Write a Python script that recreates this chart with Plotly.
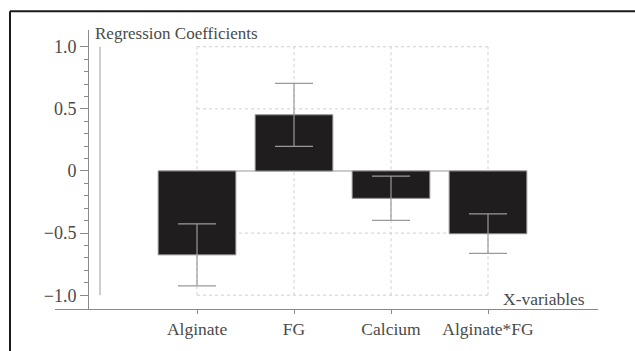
import plotly.graph_objects as go

categories = ["Alginate", "FG", "Calcium", "Alginate*FG"]
coefficients = [-0.675, 0.452, -0.22, -0.505]
errors = [0.25, 0.254, 0.178, 0.159]
ytick_vals = [-1.0, -0.5, 0.0, 0.5, 1.0]
ytick_text = ["\u22121.0", "\u22120.5", "0", "0.5", "1.0"]
minor_vals = [-0.9, -0.8, -0.7, -0.6, -0.4, -0.3, -0.2, -0.1,
              0.1, 0.2, 0.3, 0.4, 0.6, 0.7, 0.8, 0.9]
grid_y = [-1.0, -0.5, 0.5, 1.0]

FONT = "Liberation Serif"
AX = "#8a8a8a"
TXT = "#4a4a4a"

fig = go.Figure()
fig.add_trace(go.Bar(
    x=categories, y=coefficients, width=0.8,
    marker=dict(color="#1f1d1e", line=dict(color="#8c8c8c", width=1)),
    error_y=dict(type="data", array=errors, visible=True, color="#9a9a9a", thickness=1.2, width=19),
    showlegend=False,
))

shapes = []
n = len(categories)
for gy in grid_y:
    shapes.append(dict(type="line", xref="x", yref="y", x0=0, x1=n - 1, y0=gy, y1=gy,
                       line=dict(color="#d0d0d0", width=1, dash="dot"), layer="below"))
for i in range(n):
    shapes.append(dict(type="line", xref="x", yref="y", x0=i, x1=i, y0=-1, y1=1,
                       line=dict(color="#d0d0d0", width=1, dash="dot"), layer="below"))
shapes.append(dict(type="line", xref="x", yref="y", x0=-0.4, x1=n - 1 + 0.4, y0=0, y1=0,
                   line=dict(color="#9a9a9a", width=1), layer="below"))
shapes.append(dict(type="line", xref="paper", yref="y", x0=0.0829, x1=0.0829, y0=-1, y1=1,
                   line=dict(color="#9a9a9a", width=1)))
shapes.append(dict(type="line", xref="paper", yref="paper", x0=-0.0829, x1=1.2, y0=1.0671, y1=1.0671,
                   line=dict(color="#1a1a1a", width=2)))
shapes.append(dict(type="line", xref="paper", yref="paper", x0=-0.0829, x1=-0.0829, y0=1.0671, y1=-0.3,
                   line=dict(color="#1a1a1a", width=2)))

fig.update_layout(
    width=635, height=351,
    margin=dict(l=55, r=37, t=30, b=38),
    paper_bgcolor="white", plot_bgcolor="white",
    font=dict(family=FONT, size=17, color=TXT),
    shapes=shapes,
    xaxis=dict(
        range=[-1.464, 4.134], showgrid=False, zeroline=False,
        showline=True, linecolor=AX, linewidth=1,
        ticks="outside", ticklen=4, tickcolor=AX,
        tickfont=dict(family=FONT, size=17.5, color=TXT),
    ),
    yaxis=dict(
        range=[-1.111, 1.135], anchor="free", position=0.0608,
        showgrid=False, zeroline=False,
        showline=True, linecolor=AX, linewidth=1,
        tickmode="array", tickvals=ytick_vals, ticktext=ytick_text,
        ticks="outside", ticklen=8, tickcolor=AX,
        minor=dict(tickmode="array", tickvals=minor_vals, ticks="outside", ticklen=4,
                   tickcolor=AX, showgrid=False),
        tickfont=dict(family=FONT, size=18, color=TXT),
    ),
    annotations=[
        dict(text="Regression Coefficients", xref="paper", yref="paper", x=0.070, y=0.989,
             xanchor="left", yanchor="middle", showarrow=False,
             font=dict(family=FONT, size=17, color=TXT)),
        dict(text="X-variables", xref="paper", yref="paper", x=0.9797, y=0.0353,
             xanchor="right", yanchor="middle", showarrow=False,
             font=dict(family=FONT, size=17.5, color=TXT)),
    ],
)

fig.write_html("out.html")
